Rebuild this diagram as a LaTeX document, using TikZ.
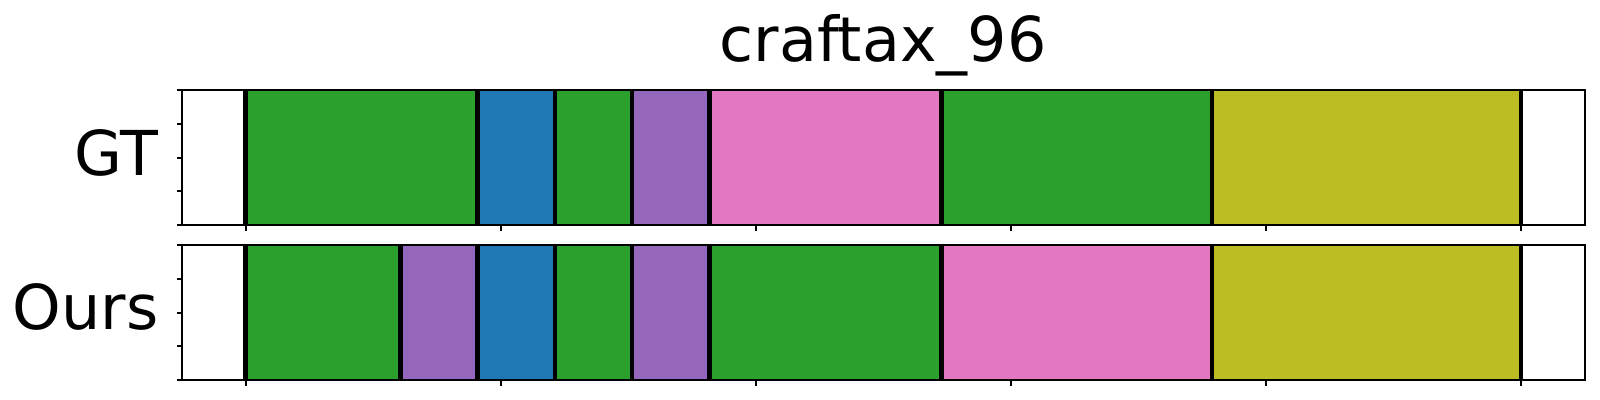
\documentclass[tikz,border=0pt]{standalone}
\usepackage{fontspec}
\setmainfont{DejaVu Sans}
\usepackage{tikz}
\definecolor{tabgreen}{HTML}{2CA02C}
\definecolor{tabblue}{HTML}{1F77B4}
\definecolor{tabpurple}{HTML}{9467BD}
\definecolor{tabpink}{HTML}{E377C2}
\definecolor{tabolive}{HTML}{BCBD22}
\tikzset{
  bigtext/.style={font=\fontsize{17.6}{20}\selectfont, inner sep=0pt},
  spine/.style={line width=0.55pt},
  cut/.style={line width=1.3pt}
}
\newcommand{\ux}{38.65}
\newcommand{\xo}{245.7}

\begin{document}
\begin{tikzpicture}[x=0.01cm,y=-0.01cm]
      \useasboundingbox (0,0) rectangle (1600,400);
      \node[bigtext, anchor=base] (title) at (883,61.7) {craftax\_96};
      \node[bigtext, anchor=base east] (gt) at (158.5,175) {GT};
      \node[bigtext, anchor=base east] (ours) at (159.3,329.5) {Ours};
      % GT segments
      \foreach \a/\b/\c in {0/6/tabgreen,6/8/tabblue,8/10/tabgreen,10/12/tabpurple,12/18/tabpink,18/25/tabgreen,25/33/tabolive} {
        \fill[\c] ({\xo+\a*\ux},90) rectangle ({\xo+\b*\ux},225.3);
      }
      \foreach \k in {0,6,8,10,12,18,25,33} {
        \draw[cut] ({\xo+\k*\ux},90) -- ({\xo+\k*\ux},225.3);
      }
      % Ours segments
      \foreach \a/\b/\c in {0/4/tabgreen,4/6/tabpurple,6/8/tabblue,8/10/tabgreen,10/12/tabpurple,12/18/tabgreen,18/25/tabpink,25/33/tabolive} {
        \fill[\c] ({\xo+\a*\ux},245) rectangle ({\xo+\b*\ux},380.3);
      }
      \foreach \k in {0,4,6,8,10,12,18,25,33} {
        \draw[cut] ({\xo+\k*\ux},245) -- ({\xo+\k*\ux},380.3);
      }
      % axes and ticks
      \foreach \t in {90,245} {
        \draw[spine] (181.7,\t) rectangle (1585,\t+135.3);
        \foreach \i in {0,1,...,4} {
          \draw[spine] (181.7,\t+\i*33.82) -- ++(-5,0);
        }
        \foreach \i in {0,1,...,5} {
          \draw[spine] (\xo+\i*255.1,\t+135.3) -- ++(0,5.5);
        }
      }
  \end{tikzpicture}
\end{document}
